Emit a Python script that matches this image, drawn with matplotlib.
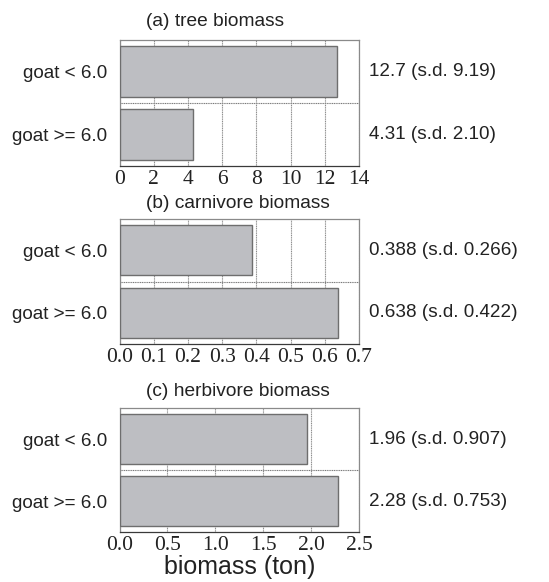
import matplotlib
matplotlib.use("Agg")
import matplotlib.pyplot as plt

# group labels (top row first)
groups = ["goat < 6.0", "goat >= 6.0"]

titles = ["(a) tree biomass", "(b) carnivore biomass", "(c) herbivore biomass"]

tree_mean = [12.7, 4.31]
tree_sd = ["9.19", "2.10"]
carn_mean = [0.388, 0.638]
carn_sd = ["0.266", "0.422"]
herb_mean = [1.96, 2.28]
herb_sd = ["0.907", "0.753"]

tree_ticks = [0, 2, 4, 6, 8, 10, 12, 14]
carn_ticks = [0.0, 0.1, 0.2, 0.3, 0.4, 0.5, 0.6, 0.7]
herb_ticks = [0.0, 0.5, 1.0, 1.5, 2.0, 2.5]

tree_fmt = "{:d}"
carn_fmt = "{:.1f}"
herb_fmt = "{:.1f}"

mean_labels = [["12.7", "4.31"], ["0.388", "0.638"], ["1.96", "2.28"]]

panels = [
    (tree_mean, tree_sd, tree_ticks, tree_fmt),
    (carn_mean, carn_sd, carn_ticks, carn_fmt),
    (herb_mean, herb_sd, herb_ticks, herb_fmt),
]

W, H = 549, 582
fig = plt.figure(figsize=(W / 100, H / 100), dpi=100)

# axes boxes in pixels: (top, bottom)
boxes = [(40, 166), (219, 344), (408, 532)]
left_px, right_px = 119.5, 359
title_y = [21, 204, 391]

sans = "Liberation Sans"
serif = "Liberation Serif"
txt = "#222222"
frame = "#8a8a8a"

for k, (means, sds, ticks, fmt) in enumerate(panels):
    top, bot = boxes[k]
    ax = fig.add_axes([left_px / W, 1 - bot / H, (right_px - left_px) / W, (bot - top) / H])
    ypos = [0, 1]
    ax.barh(ypos, means, height=0.8, color="#bdbec2", edgecolor="#6e6e6e",
            linewidth=1.0, zorder=3)
    ax.set_xlim(ticks[0], ticks[-1])
    ax.set_ylim(1.5, -0.5)
    ax.set_xticks(ticks)
    ax.set_xticklabels([fmt.format(t) for t in ticks], fontfamily=serif,
                       fontsize=15.5, color=txt)
    ax.set_yticks(ypos)
    ax.set_yticklabels(groups, fontfamily=sans, fontsize=13.6, color=txt)
    ax.tick_params(axis="both", length=0)
    ax.tick_params(axis="x", pad=3)
    ax.tick_params(axis="y", pad=9)
    # fine dotted grid behind the bars
    ax.grid(axis="x", color="#8c8c8c", linestyle=(0, (1.0, 0.6)), linewidth=0.8, zorder=1)
    ax.axhline(0.5, color="#7a7a7a", linestyle=(0, (1.0, 0.6)), linewidth=0.8, zorder=1)
    for s in ax.spines.values():
        s.set_color(frame)
        s.set_linewidth(0.9)
    ax.spines["bottom"].set_color("#3a3a3a")
    for i in range(2):
        ax.text(1.04, ypos[i], f"{mean_labels[k][i]} (s.d. {sds[i]})",
                transform=ax.get_yaxis_transform(), ha="left", va="center",
                fontfamily=sans, fontsize=13.6, color=txt)
    fig.text(146 / W, 1 - title_y[k] / H, titles[k], ha="left", va="center",
             fontfamily=sans, fontsize=13.8, color=txt)
    if k == 2:
        ax.set_xlabel("biomass (ton)", fontfamily=sans, fontsize=18, color=txt,
                      labelpad=0)

fig.savefig("out.png", dpi=100)
